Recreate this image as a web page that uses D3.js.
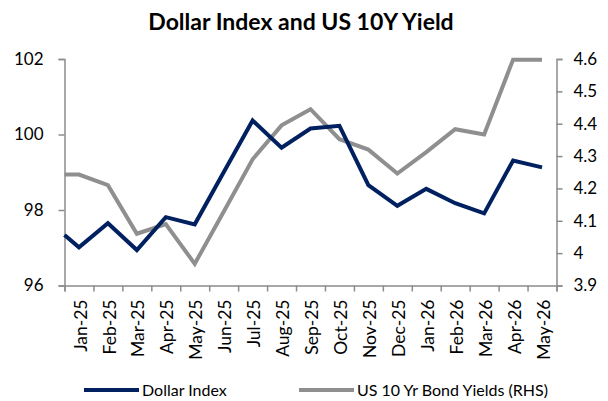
<!DOCTYPE html>
<html>
<head>
<meta charset="utf-8">
<script src="https://cdn.jsdelivr.net/npm/d3@7"></script>
<style>
  body { margin: 0; background: #fff; }
  svg { display: block; font-family: Lato, "Open Sans", sans-serif; }
</style>
</head>
<body>
<svg width="608" height="401"></svg>
<script>
// month labels on the x axis
const months = ["Jan-25", "Feb-25", "Mar-25", "Apr-25", "May-25", "Jun-25", "Jul-25", "Aug-25",
  "Sep-25", "Oct-25", "Nov-25", "Dec-25", "Jan-26", "Feb-26", "Mar-26", "Apr-26", "May-26"];
// first value sits on the left edge of the axis (opening point), the rest on each month
const pointIndex = [-0.5, 0, 1, 2, 3, 4, 5, 6, 7, 8, 9, 10, 11, 12, 13, 14, 15, 16];
const dollarIndex = [97.34, 97.01, 97.65, 96.94, 97.81, 97.62, 99.0, 100.37, 99.65, 100.16,
  100.23, 98.66, 98.11, 98.56, 98.18, 97.91, 99.31, 99.13];
const usYield = [4.243, 4.243, 4.21, 4.06, 4.09, 3.967, 4.128, 4.29, 4.395, 4.445,
  4.352, 4.32, 4.246, 4.312, 4.383, 4.367, 4.598, 4.598];
const leftTicks = [96, 98, 100, 102];
const rightTicks = [3.9, 4, 4.1, 4.2, 4.3, 4.4, 4.5, 4.6];

const svg = d3.select("svg");
const plotLeft = 64.5, plotRight = 556.5, plotTop = 59, plotBottom = 285.5;
const axisColor = "#8c8c8c";
const navy = "#002060";
const grey = "#8f8f8f";

const x = d3.scaleLinear().domain([-0.5, months.length - 0.5]).range([plotLeft, plotRight]);
const yL = d3.scaleLinear().domain([96, 102]).range([plotBottom, plotTop]);
const yR = d3.scaleLinear().domain([3.9, 4.6]).range([plotBottom, plotTop]);

// title
svg.append("text")
    .attr("x", 301).attr("y", 30)
    .attr("text-anchor", "middle")
    .attr("font-size", "23px")
    .attr("font-weight", "bold")
    .attr("fill", "#000")
    .text("Dollar Index and US 10Y Yield");

// left axis
const gL = svg.append("g").attr("transform", `translate(${plotLeft},0)`)
    .call(d3.axisLeft(yL).tickValues(leftTicks).tickSize(6).tickPadding(15).tickFormat(d3.format("d")));
// right axis
const gR = svg.append("g").attr("transform", `translate(${plotRight},0)`)
    .call(d3.axisRight(yR).tickValues(rightTicks).tickSize(6).tickPadding(11).tickFormat(d => String(+d.toFixed(1))));
// bottom axis: ticks between months, labels at month centres
const gB = svg.append("g").attr("transform", `translate(0,${plotBottom})`)
    .call(d3.axisBottom(x).tickValues(d3.range(-0.5, months.length, 1)).tickSize(6).tickFormat(""));
const gLab = svg.append("g").attr("transform", `translate(0,${plotBottom})`)
    .call(d3.axisBottom(x).tickValues(d3.range(months.length)).tickSize(0).tickFormat(i => months[i]));

[gL, gR, gB, gLab].forEach(g => {
  g.select(".domain").attr("stroke", axisColor).attr("stroke-width", 1.5);
  g.selectAll(".tick line").attr("stroke", axisColor).attr("stroke-width", 1.5);
  g.selectAll(".tick text").attr("fill", "#000").attr("font-family", "Lato, 'Open Sans', sans-serif");
});
gL.selectAll(".tick text").attr("font-size", "17px");
gR.selectAll(".tick text").attr("font-size", "17px");
gLab.select(".domain").remove();
gLab.selectAll(".tick text")
    .attr("font-size", "17.5px")
    .attr("transform", "rotate(-90)")
    .attr("text-anchor", "end")
    .attr("x", -14)
    .attr("y", 1)
    .attr("dy", "0.35em");

// lines
const lineL = d3.line().x((d, i) => x(pointIndex[i])).y(d => yL(d));
const lineR = d3.line().x((d, i) => x(pointIndex[i])).y(d => yR(d));

svg.append("path").datum(usYield)
    .attr("d", lineR)
    .attr("fill", "none").attr("stroke", grey).attr("stroke-width", 4)
    .attr("stroke-linejoin", "miter");
svg.append("path").datum(dollarIndex)
    .attr("d", lineL)
    .attr("fill", "none").attr("stroke", navy).attr("stroke-width", 4)
    .attr("stroke-linejoin", "miter");

// legend
const legend = [
  { label: "Dollar Index", color: navy, x: 84 },
  { label: "US 10 Yr Bond Yields (RHS)", color: grey, x: 299 }
];
const lg = svg.selectAll(".legend").data(legend).enter().append("g").attr("class", "legend");
lg.append("line")
    .attr("x1", d => d.x).attr("x2", d => d.x + 55)
    .attr("y1", 390).attr("y2", 390)
    .attr("stroke", d => d.color).attr("stroke-width", 4);
lg.append("text")
    .attr("x", d => d.x + 58).attr("y", 396)
    .attr("font-size", "16px")
    .attr("fill", "#000")
    .text(d => d.label);
</script>
</body>
</html>
